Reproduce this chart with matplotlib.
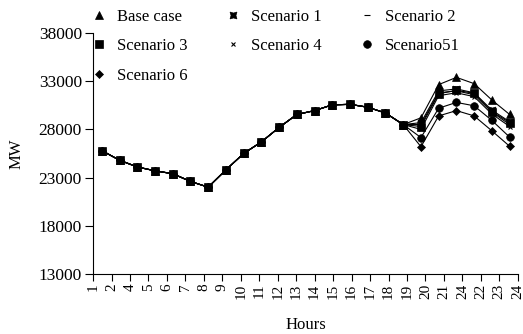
import matplotlib
matplotlib.use("Agg")
import matplotlib.pyplot as plt
from matplotlib.lines import Line2D
import numpy as np

plt.rcParams['font.family'] = ['Liberation Serif', 'DejaVu Serif']

hours = list(range(1, 25))
tick_labels = ['1', '2', '4', '5', '6', '7', '8', '9', '10', '11', '12', '13',
               '14', '15', '16', '17', '18', '19', '20', '21', '24', '22', '23', '24']

common = [25800, 24800, 24100, 23700, 23400, 22600, 22000, 23800, 25500, 26700,
          28200, 29550, 29950, 30550, 30600, 30300, 29700, 28500]

base_case = common + [29200, 32650, 33400, 32750, 31050, 29550]
scenario1 = common + [28700, 32000, 32200, 31800, 30000, 28800]
scenario2 = common + [28500, 31800, 32000, 31600, 29800, 28500]
scenario3 = common + [28300, 31700, 32050, 31750, 29850, 28700]
scenario4 = common + [28000, 31500, 31800, 31400, 29600, 28300]
scenario51 = common + [27150, 30200, 30800, 30450, 28930, 27200]
scenario6 = common + [26200, 29400, 29950, 29400, 27850, 26250]

series = [
    ("Base case", base_case, '^', 6),
    ("Scenario 3", scenario3, 's', 5.5),
    ("Scenario 6", scenario6, 'D', 4.5),
    ("Scenario 1", scenario1, (4, 1, 45), 7),
    ("Scenario 4", scenario4, 'x', 3.5),
    ("Scenario 2", scenario2, '_', 4),
    ("Scenario51", scenario51, 'o', 5.5),
]

fig = plt.figure(figsize=(5.23, 3.34), dpi=100)
ax = fig.add_axes([0.178, 0.180, 0.812, 0.721])

handles = []
for name, vals, mk, ms in series:
    ax.plot(hours, vals, color='black', lw=0.8, marker=mk, markersize=ms,
            markeredgewidth=0.8 if mk in ('x', '_') else 0.5)
    handles.append(Line2D([], [], color='black', ls='none', marker=mk,
                          markersize=ms, label=name,
                          markeredgewidth=0.8 if mk in ('x', '_') else 0.5))

ax.set_xlim(0.509, 24.46)
ax.set_ylim(13000, 38000)
ax.set_yticks(np.arange(13000, 38001, 5000))
ax.set_xticks(np.linspace(0.509, 24.46, 24))
ax.set_xticklabels(tick_labels, rotation=90, fontsize=11)
ax.tick_params(axis='y', labelsize=12.5, length=6, width=0.8, direction='out', pad=2)
ax.tick_params(axis='x', length=5, width=0.8, direction='out', pad=2)
for s in ['top', 'right']:
    ax.spines[s].set_visible(False)
for s in ['left', 'bottom']:
    ax.spines[s].set_linewidth(0.8)

ax.set_xlabel('Hours', fontsize=12, labelpad=13)
ax.set_ylabel('MW', fontsize=12, labelpad=10)

fig.legend(handles=handles, ncol=3, frameon=False, fontsize=12,
           loc='upper left', bbox_to_anchor=(0.151, 1.008),
           handlelength=1.0, handletextpad=0.6, columnspacing=2.2,
           labelspacing=0.8, borderpad=0.2)

fig.savefig('out.png', dpi=100)
